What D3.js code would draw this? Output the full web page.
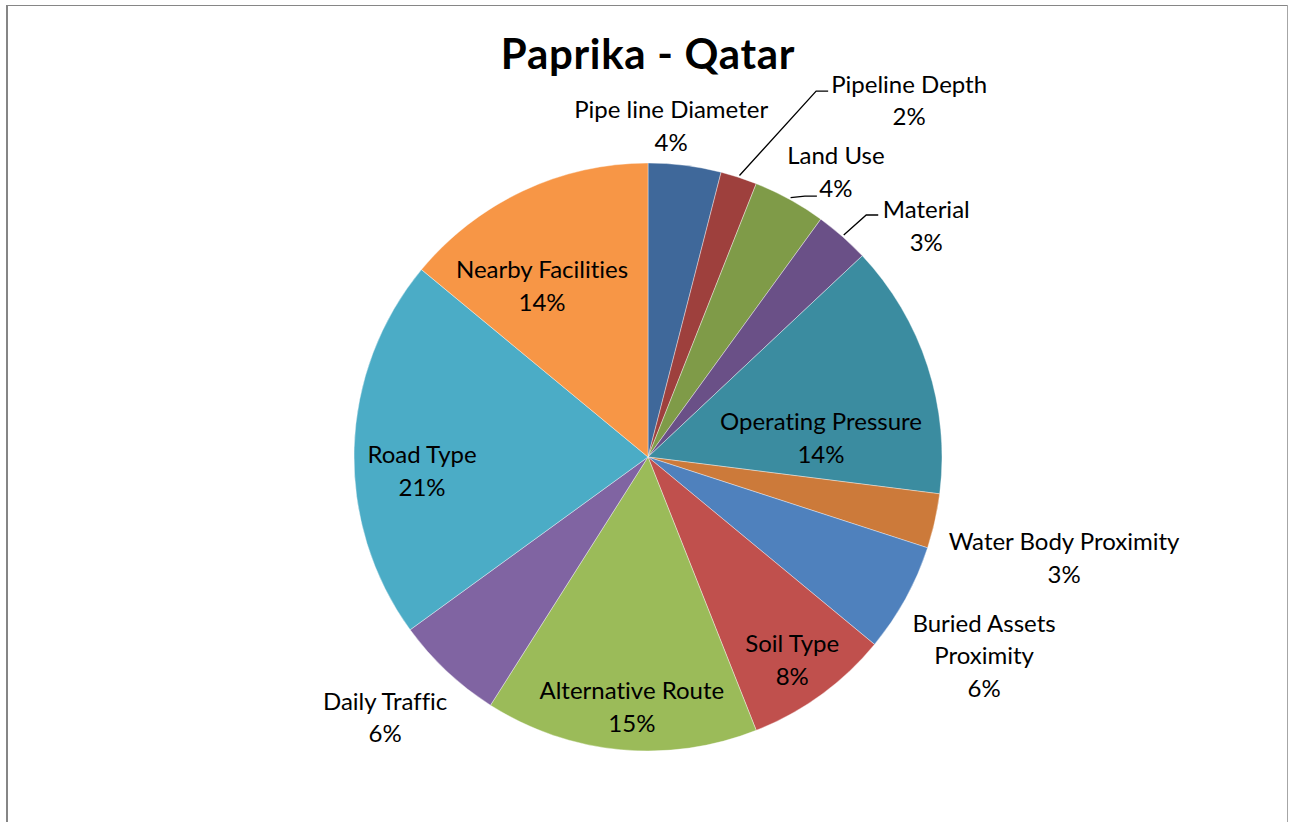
<!DOCTYPE html>
<html>
<head>
<meta charset="utf-8">
<script src="https://cdn.jsdelivr.net/npm/d3@7/dist/d3.min.js"></script>
<style>
  html, body { margin: 0; padding: 0; background: #ffffff; }
  svg { display: block; }
  text { font-family: Lato, "Open Sans", sans-serif; fill: #000; font-variant-ligatures: none; }
</style>
</head>
<body>
<svg id="chart" width="1289" height="822"></svg>
<script>
// Weight of each routing factor (percent), clockwise from 12 o'clock
const categories = [
  "Pipe line Diameter", "Pipeline Depth", "Land Use", "Material",
  "Operating Pressure", "Water Body Proximity", "Buried Assets Proximity",
  "Soil Type", "Alternative Route", "Daily Traffic", "Road Type", "Nearby Facilities"
];
const values = [4, 2, 4, 3, 14, 3, 6, 8, 15, 6, 21, 14];
const colors = [
  "#3f689a", "#9e403d", "#7f9b48", "#6a5087", "#3b8ca0", "#cc7a3a",
  "#4f81bd", "#c0504d", "#9bbb59", "#8064a2", "#4bacc6", "#f79646"
];
const title = "Paprika - Qatar";

// Label placement: polar position (degrees clockwise from top, radius as a multiple of R)
const labelAngle  = [4.0, 36.2, 33.4, 50.3, 83.7, 103.6, 120.6, 144.6, 183.7, 225.3, 266.5, 328.2];
const labelRadius = [1.129, 1.504, 1.161, 1.23, 0.592, 1.456, 1.328, 0.847, 0.852, 1.258, 0.77, 0.684];
const labelLines = { "Buried Assets Proximity": ["Buried Assets", "Proximity"] };
// Leader lines: end point offset from the label centre
const leaders = {
  "Pipeline Depth": [-81, -9],
  "Land Use": [-19, 24],
  "Material": [-48, -11]
};

const svg = d3.select("#chart");
const W = 1289, H = 822;
const cx = 648, cy = 457, R = 294;
const fontSize = 24, lineH = 32.5;

// Chart frame
svg.append("line").attr("x1", 7).attr("x2", 7).attr("y1", 5).attr("y2", H)
  .attr("stroke", "#868686").attr("stroke-width", 2);
svg.append("line").attr("x1", 6).attr("x2", 1288).attr("y1", 5.5).attr("y2", 5.5)
  .attr("stroke", "#868686").attr("stroke-width", 1);
svg.append("line").attr("x1", 1287.5).attr("x2", 1287.5).attr("y1", 5).attr("y2", H)
  .attr("stroke", "#a6a6a6").attr("stroke-width", 1);

// Title
svg.append("text")
  .attr("x", cx).attr("y", 69)
  .attr("text-anchor", "middle")
  .style("font-size", "42px").style("font-weight", 700)
  .style("letter-spacing", "0.7px")
  .text(title);

const data = categories.map((c, i) => ({ name: c, value: values[i], color: colors[i] }));
const pie = d3.pie().sort(null).value(d => d.value).startAngle(0).endAngle(2 * Math.PI);
const arcs = pie(data);
const arc = d3.arc().innerRadius(0).outerRadius(R);

const g = svg.append("g").attr("transform", `translate(${cx},${cy})`);

g.selectAll("path.slice")
  .data(arcs)
  .join("path")
  .attr("class", "slice")
  .attr("d", arc)
  .attr("fill", d => d.data.color)
  .attr("stroke", "#ffffff")
  .attr("stroke-opacity", 0.55)
  .attr("stroke-width", 0.7);

const deg = Math.PI / 180;
function polar(angleDeg, r) {
  return [Math.sin(angleDeg * deg) * r, -Math.cos(angleDeg * deg) * r];
}

// Leader lines for the narrow top slices
arcs.forEach(a => {
  const off = leaders[a.data.name];
  if (!off) return;
  const i = a.index;
  const mid = (a.startAngle + a.endAngle) / 2;
  const start = [Math.sin(mid) * (R + 2), -Math.cos(mid) * (R + 2)];
  const lc = polar(labelAngle[i], labelRadius[i] * R);
  const end = [lc[0] + off[0], lc[1] + off[1]];
  const elbow = [end[0] - 12, end[1]];
  g.append("path")
    .attr("d", d3.line()([start, elbow, end]))
    .attr("fill", "none")
    .attr("stroke", "#000")
    .attr("stroke-width", 1.3);
});

// Data labels: name and percentage
arcs.forEach(a => {
  const i = a.index;
  const lines = (labelLines[a.data.name] || [a.data.name]).concat([a.data.value + "%"]);
  const [lx, ly] = polar(labelAngle[i], labelRadius[i] * R);
  const t = g.append("text")
    .attr("text-anchor", "middle")
    .style("font-size", fontSize + "px");
  lines.forEach((s, k) => {
    t.append("tspan")
      .attr("x", lx)
      .attr("y", ly + (k - (lines.length - 1) / 2) * lineH + fontSize * 0.36)
      .text(s);
  });
});
</script>
</body>
</html>
